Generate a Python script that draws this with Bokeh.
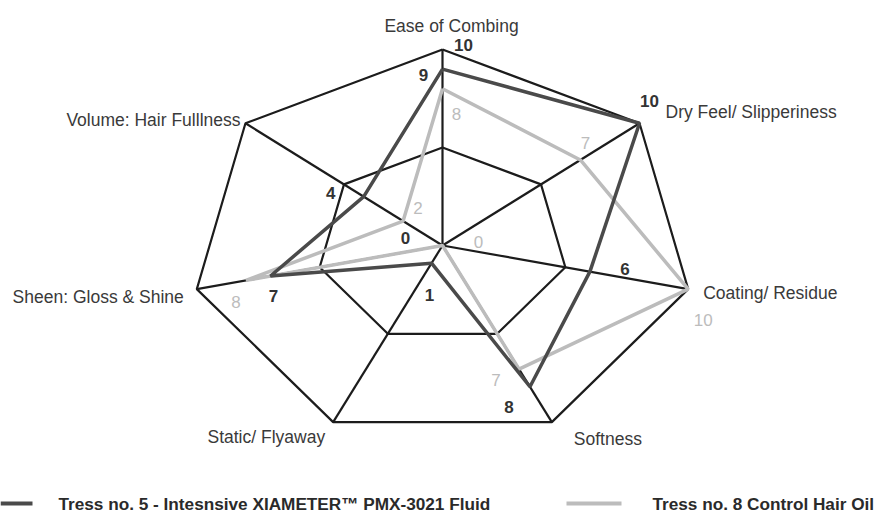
import numpy as np
from bokeh.plotting import figure
from bokeh.models import Range1d
from bokeh.core.properties import value
from bokeh.embed import file_html
from bokeh.resources import INLINE

# ---------------- data ----------------
categories = ["Ease of Combing", "Dry Feel/ Slipperiness", "Coating/ Residue",
              "Softness", "Static/ Flyaway", "Sheen: Gloss & Shine",
              "Volume: Hair Fulllness"]
tress5 = [9, 10, 6, 8, 1, 7, 4]      # Tress no. 5 - Intesnsive XIAMETER PMX-3021 Fluid
tress8 = [8, 7, 10, 7, 0, 8, 2]      # Tress no. 8 Control Hair Oil
series_names = ["Tress no. 5 - Intesnsive XIAMETER\u2122 PMX-3021 Fluid",
                "Tress no. 8 Control Hair Oil"]
scale_max = 10
grid_levels = [5, 10]

# ---------------- layout ----------------
W, H = 880, 512
CX, CY = 442, 245          # centre in figure pixels
RX, RY = 252, 196          # pixel size of the full-scale radius

p = figure(width=W, height=H, output_backend="svg", toolbar_location=None,
           x_range=Range1d(-CX / RX, (W - CX) / RX),
           y_range=Range1d(-(H - CY) / RY, CY / RY),
           x_axis_type=None, y_axis_type=None, min_border=0)
p.grid.visible = False
p.outline_line_color = None
p.background_fill_color = "white"

n = len(categories)
theta = np.arange(n) * 2 * np.pi / n
sx, cy = np.sin(theta), np.cos(theta)

def pts(vals, top=scale_max):
    r = np.asarray(vals, float) / top
    return list(r * sx), list(r * cy)

GRID = "#1c1c1c"
DARK = "#4a4a4a"
LIGHT = "#bcbcbc"
TXT = "#3a3a3a"
FONT = value("Liberation Sans")

# grid rings
for lv in grid_levels:
    gx, gy = pts([lv] * n)
    p.line(gx + gx[:1], gy + gy[:1], line_color=GRID, line_width=2.2)
# spokes
ox, oy = pts([scale_max] * n)
p.segment(x0=[0] * n, y0=[0] * n, x1=ox, y1=oy, line_color=GRID, line_width=2.2)

# series
lx, ly = pts(tress8)
p.line(lx + lx[:1], ly + ly[:1], line_color=LIGHT, line_width=3.5)
dx, dy = pts(tress5)
p.line(dx + dx[:1], dy + dy[:1], line_color=DARK, line_width=3.5)

# category labels
cat_off_x = [9, 26, 15, 22, -8, -13, -5]
cat_off_y = [-24, -11, 4, 17, 15, 8, -3]
cat_align = ["center", "left", "left", "left", "right", "right", "right"]
p.text(x=ox, y=oy, text=categories, x_offset=cat_off_x, y_offset=cat_off_y,
       text_align=cat_align, text_baseline="middle", text_font=FONT,
       text_font_size="17.5px", text_color=TXT)

# value labels, dark series
d_off_x = [-19, 10, 35, -21, -2, 3, -33]
d_off_y = [6, -22, -3, 20, 32, 20, -4]
p.text(x=dx, y=dy, text=[str(v) for v in tress5], x_offset=d_off_x, y_offset=d_off_y,
       text_align="center", text_baseline="middle", text_font=FONT,
       text_font_size="17px", text_font_style="bold", text_color="#333333")
# scale labels (max at top, 0 at centre)
p.text(x=[ox[0], 0], y=[oy[0], 0], text=[str(scale_max), "0"],
       x_offset=[21, -37], y_offset=[-5, -8],
       text_align="center", text_baseline="middle", text_font=FONT,
       text_font_size="17px", text_font_style="bold", text_color="#333333")

# value labels, light series
l_off_x = [14, 5, 15, -23, 36, -10, 15]
l_off_y = [25, -17, 31, 11, -4, 22, -13]
p.text(x=lx, y=ly, text=[str(v) for v in tress8], x_offset=l_off_x, y_offset=l_off_y,
       text_align="center", text_baseline="middle", text_font=FONT,
       text_font_size="17px", text_color=LIGHT)

# legend (positioned in figure pixels, converted to data units)
def fx(px):
    return (px - CX) / RX
def fy(py):
    return (CY - py) / RY

leg_y = fy(503)
p.segment(x0=[fx(0), fx(566)], y0=[leg_y, leg_y], x1=[fx(32), fx(621)], y1=[leg_y, leg_y],
          line_color=[DARK, LIGHT], line_width=4)
p.text(x=[fx(58), fx(652)], y=[leg_y, leg_y], text=series_names,
       text_align="left", text_baseline="middle", text_font=FONT,
       text_font_size="17.2px", text_font_style="bold", text_color="#2a2a2a")

open("out.html", "w").write(file_html(p, INLINE))
